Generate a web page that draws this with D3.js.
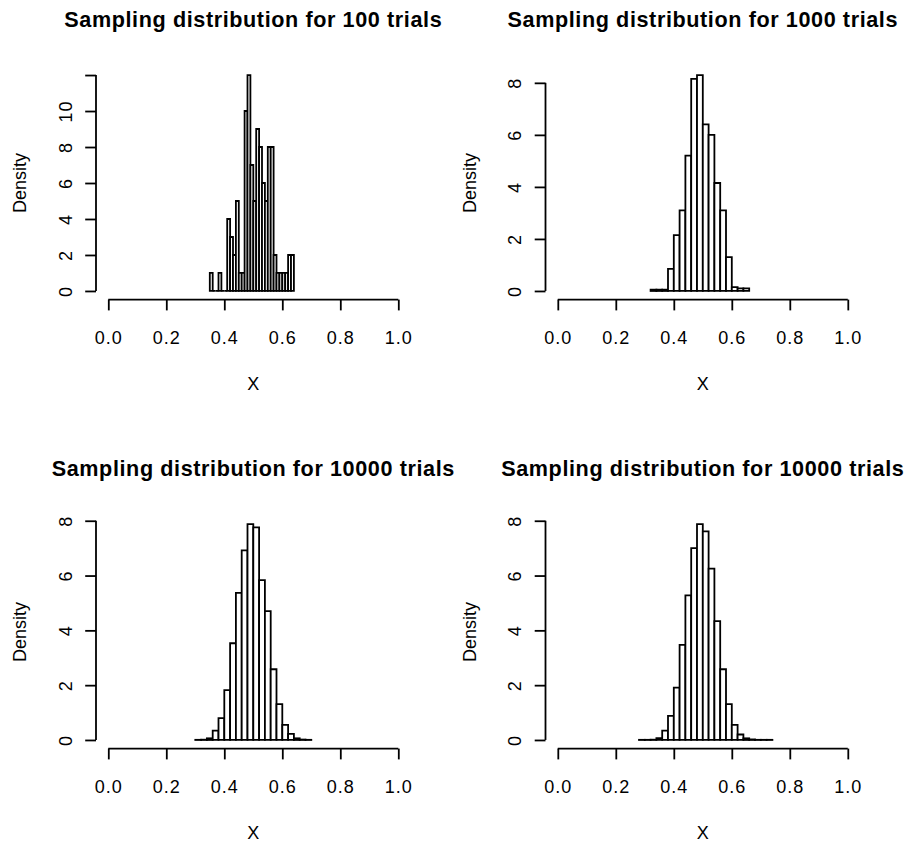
<!DOCTYPE html>
<html>
<head>
<meta charset="utf-8">
<script src="https://cdn.jsdelivr.net/npm/d3@7"></script>
<style>
  body { margin: 0; background: #fff; }
  svg { display: block; }
  text { font-family: "Liberation Sans", Arial, sans-serif; fill: #000; }
</style>
</head>
<body>
<script>
// panel titles, row by row
const titles = [
  'Sampling distribution for 100 trials',
  'Sampling distribution for 1000 trials',
  'Sampling distribution for 10000 trials',
  'Sampling distribution for 10000 trials'
];

// histogram breaks: first break and bin width of each panel
const binStart = [0.35, 0.32, 0.30, 0.28];
const binWidth = [0.01, 0.02, 0.02, 0.02];

// densities
const dens100 = [1, 0, 0, 1, 0, 0, 4, 3, 2, 5, 1, 1, 10, 12, 7, 5, 9, 8, 6, 5, 8, 8, 2, 1, 1, 1, 1, 2, 2];
const dens1000 = [0.05, 0.05, 0.05, 0.85, 2.15, 3.1, 5.2, 8.15, 8.3, 6.4, 6.0, 4.15, 3.1, 1.3, 0.15, 0.1, 0.1];
const dens10000a = [0.005, 0.01, 0.06, 0.34, 0.8, 1.82, 3.53, 5.37, 6.92, 7.88, 7.76, 5.83, 4.7, 2.58, 1.31, 0.55, 0.22, 0.06, 0.015, 0.005];
const dens10000b = [0.005, 0.005, 0.01, 0.07, 0.34, 0.88, 1.91, 3.47, 5.28, 7.0, 7.88, 7.61, 6.25, 4.34, 2.58, 1.31, 0.55, 0.2, 0.06, 0.02, 0.005, 0.005, 0.005];
const densities = [dens100, dens1000, dens10000a, dens10000b];

// axis ticks and labels
const xTicks = [0, 0.2, 0.4, 0.6, 0.8, 1.0];
const yTicks = [
  [0, 2, 4, 6, 8, 10, 12],
  [0, 2, 4, 6, 8],
  [0, 2, 4, 6, 8],
  [0, 2, 4, 6, 8]
];
const yTickLabels = [
  ['0', '2', '4', '6', '8', '10', ''],
  ['0', '2', '4', '6', '8'],
  ['0', '2', '4', '6', '8'],
  ['0', '2', '4', '6', '8']
];
const xLabel = 'X';
const yLabel = 'Density';

const W = 904, H = 843;
const svg = d3.select('body').append('svg')
  .attr('width', W)
  .attr('height', H);

// plot region of the top-left panel, the others are shifted
const plotL = 96.7, plotR = 409.9, plotT = 66.4, plotB = 299.6;
const colShift = [0, 449.5];
const rowShift = [0, 449];
const tickLen = 10.8;
const lw = 1.8;

densities.forEach((dens, i) => {
  const g = svg.append('g')
    .attr('transform', `translate(${colShift[i % 2]},${rowShift[Math.floor(i / 2)]})`);

  const x = d3.scaleLinear().domain([-0.04, 1.04]).range([plotL, plotR]);
  const ymax = d3.max(dens);
  const y = d3.scaleLinear().domain([-0.04 * ymax, 1.04 * ymax]).range([plotB, plotT]);

  const bins = dens.map((d, k) => ({
    x0: binStart[i] + k * binWidth[i],
    x1: binStart[i] + (k + 1) * binWidth[i],
    d: d
  }));

  // bars as paths so empty bins still show as a line on the baseline
  g.selectAll('path.bar')
    .data(bins)
    .join('path')
    .attr('class', 'bar')
    .attr('d', b => `M${x(b.x0)},${y(0)}V${y(b.d)}H${x(b.x1)}V${y(0)}Z`)
    .attr('fill', '#fff')
    .attr('stroke', '#000')
    .attr('stroke-width', lw);

  // x axis
  const xa = g.append('g')
    .attr('transform', `translate(0,${plotB})`)
    .call(d3.axisBottom(x)
      .tickValues(xTicks)
      .tickFormat(d3.format('.1f'))
      .tickSize(tickLen)
      .tickPadding(21));
  xa.select('.domain').attr('d', `M${x(0)},0H${x(1)}`);
  xa.selectAll('path, line').attr('stroke', '#000').attr('stroke-width', lw);
  xa.selectAll('text')
    .attr('font-size', 18)
    .attr('font-family', '"Liberation Sans", Arial, sans-serif')
    .attr('letter-spacing', 1);

  // y axis, labels turned like R does
  const yt = yTicks[i];
  const ya = g.append('g')
    .attr('transform', `translate(${plotL - 0.7},0)`)
    .call(d3.axisLeft(y)
      .tickValues(yt)
      .tickFormat((d, k) => yTickLabels[i][k])
      .tickSize(tickLen));
  ya.select('.domain').attr('d', `M0,${y(0)}V${y(yt[yt.length - 1])}`);
  ya.selectAll('path, line').attr('stroke', '#000').attr('stroke-width', lw);
  ya.selectAll('text')
    .attr('x', 0)
    .attr('dy', null)
    .attr('text-anchor', 'middle')
    .attr('transform', 'translate(-24.5,0) rotate(-90)')
    .attr('font-size', 18)
    .attr('font-family', '"Liberation Sans", Arial, sans-serif')
    .attr('letter-spacing', 1);

  const cx = (plotL + plotR) / 2;

  g.append('text')
    .attr('x', cx)
    .attr('y', 26.5)
    .attr('text-anchor', 'middle')
    .attr('font-size', 21.6)
    .attr('font-weight', 'bold')
    .attr('letter-spacing', 0.6)
    .text(titles[i]);

  g.append('text')
    .attr('x', cx)
    .attr('y', 389.5)
    .attr('text-anchor', 'middle')
    .attr('font-size', 18)
    .text(xLabel);

  g.append('text')
    .attr('transform', `translate(26,${(plotT + plotB) / 2}) rotate(-90)`)
    .attr('text-anchor', 'middle')
    .attr('font-size', 18)
    .text(yLabel);
});
</script>
</body>
</html>
